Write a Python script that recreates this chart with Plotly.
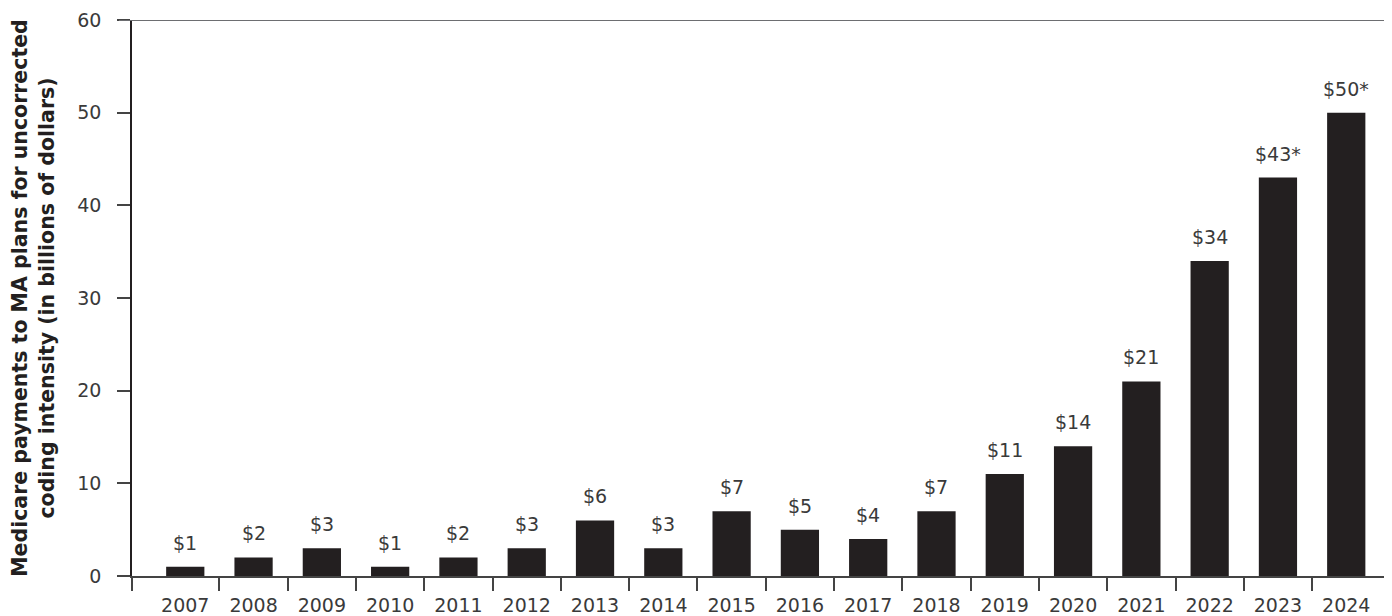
import plotly.graph_objects as go

years = ["2007", "2008", "2009", "2010", "2011", "2012", "2013", "2014", "2015",
         "2016", "2017", "2018", "2019", "2020", "2021", "2022", "2023", "2024"]
values = [1, 2, 3, 1, 2, 3, 6, 3, 7, 5, 4, 7, 11, 14, 21, 34, 43, 50]
label_suffix = ["", "", "", "", "", "", "", "", "", "", "", "", "", "", "", "", "*", "*"]
y_ticks = [0, 10, 20, 30, 40, 50, 60]

BAR = "#231f20"
TXT = "#3a3a3a"
FONT = "DejaVu Sans"

# page body has an 8px margin; compensate so the plot lands where the reference's does
OFF = 8
W, H = 1392 - OFF, 616 - OFF

xpos = list(range(len(years)))
x_range = [-0.78, len(years) - 1 + 0.67]

fig = go.Figure()
fig.add_trace(go.Bar(
    x=xpos, y=values, width=0.56,
    marker=dict(color=BAR, line=dict(width=0)),
    hoverinfo="skip", showlegend=False,
))
# invisible trace to activate the tick overlay axis
fig.add_trace(go.Scatter(x=[x_range[0]], y=[0], xaxis="x2", mode="markers",
                         marker=dict(opacity=0), showlegend=False, hoverinfo="skip"))

annotations = []
for x, v, s in zip(xpos, values, label_suffix):
    annotations.append(dict(
        x=x, y=v, xref="x", yref="y", text=f"${v}{s}", showarrow=False,
        yanchor="bottom", yshift=11,
        font=dict(family=FONT, size=19, color=TXT),
    ))

boundary_ticks = [x_range[0] + 0.004] + [i + 0.5 for i in range(len(years) - 1)]

plot_w = W - (132 - OFF)

fig.update_layout(
    width=W, height=H,
    margin=dict(l=132 - OFF, r=0, t=20 - OFF, b=H - (576 - OFF), autoexpand=False),
    plot_bgcolor="white", paper_bgcolor="white",
    annotations=annotations,
    font=dict(family=FONT, color=TXT),
    xaxis=dict(
        range=x_range, tickmode="array", tickvals=xpos, ticktext=years,
        ticks="", showline=True, linecolor="#444444", linewidth=1.5,
        showgrid=False, zeroline=False, ticklabelstandoff=11,
        tickfont=dict(family=FONT, size=19, color=TXT),
    ),
    xaxis2=dict(
        range=x_range, overlaying="x", side="bottom", anchor="y",
        tickmode="array", tickvals=boundary_ticks, showticklabels=False,
        ticks="outside", ticklen=14, tickwidth=1.5, tickcolor="#444444",
        showline=False, showgrid=False, zeroline=False,
    ),
    yaxis=dict(
        range=[0, 60], tickmode="array", tickvals=y_ticks,
        ticks="outside", ticklen=13, tickwidth=1.5, tickcolor="#444444",
        showline=True, linecolor="#231f20", linewidth=1.5,
        showgrid=False, zeroline=False, ticklabelstandoff=12,
        tickfont=dict(family=FONT, size=19, color=TXT),
        title=dict(
            text="<b>Medicare payments to MA plans for uncorrected<br>coding intensity (in billions of dollars)</b>",
            font=dict(family=FONT, size=20.5, color="#231f20"),
            standoff=17,
        ),
    ),
    shapes=[dict(type="line", xref="paper", yref="y", x0=-13 / plot_w, x1=1,
                 y0=60, y1=60, line=dict(color="#6d6e71", width=2), layer="above")],
)

fig.write_html("out.html")
